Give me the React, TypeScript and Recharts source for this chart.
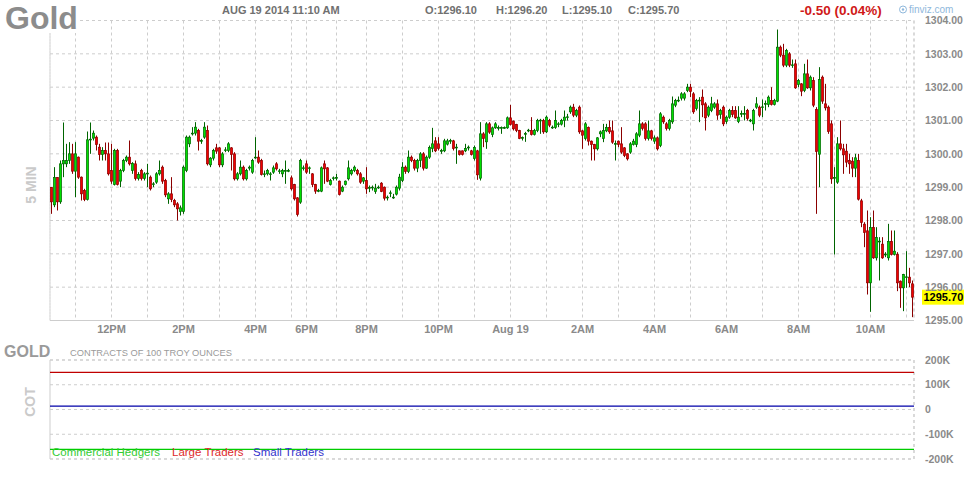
import { ComposedChart, Bar, Line, XAxis, YAxis, CartesianGrid, ReferenceArea, ReferenceLine } from "recharts";

const FONT = "Arial, 'Liberation Sans', Helvetica, sans-serif";

// 5-minute gold futures bars, 10:20 AM Aug 18 -> 11:10 AM Aug 19 2014 (one row = 12 bars)
const OPEN = [
  1298.99, 1298.47, 1299.29, 1298.56, 1299.7, 1299.7, 1299.8, 1300.0, 1299.48, 1299.9, 1299.3, 1298.9,
  1298.63, 1300.42, 1300.47, 1300.5, 1300.2, 1299.98, 1300.1, 1300.0, 1299.5, 1299.08, 1300.1, 1299.18,
  1299.5, 1299.8, 1299.9, 1299.5, 1299.7, 1299.26, 1299.5, 1299.26, 1299.4, 1299.3, 1299.08, 1299.15,
  1299.4, 1299.6, 1299.2, 1298.65, 1298.8, 1298.6, 1298.5, 1298.27, 1298.27, 1299.5, 1300.3, 1300.6,
  1300.62, 1300.7, 1300.38, 1300.5, 1300.7, 1299.67, 1299.87, 1300.18, 1300.18, 1299.67, 1300.1, 1300.1,
  1300.18, 1300.0, 1299.25, 1299.4, 1299.6, 1299.25, 1299.57, 1299.45, 1299.88, 1299.9, 1299.8, 1299.38,
  1299.4, 1299.38, 1299.45, 1299.7, 1299.47, 1299.4, 1299.48, 1299.48, 1299.28, 1299.08, 1298.68, 1298.55,
  1299.56, 1299.7, 1299.56, 1299.4, 1299.08, 1298.88, 1298.88, 1299.7, 1299.58, 1299.08, 1299.26, 1299.27,
  1299.18, 1298.88, 1299.08, 1299.25, 1299.4, 1299.5, 1299.5, 1299.4, 1299.18, 1299.2, 1298.97, 1298.98,
  1298.87, 1298.99, 1299.12, 1299.0, 1298.68, 1298.81, 1298.68, 1298.79, 1298.97, 1299.2, 1299.6, 1299.47,
  1299.9, 1299.8, 1299.57, 1299.8, 1300.0, 1299.57, 1299.9, 1300.16, 1300.39, 1300.3, 1300.08, 1300.09,
  1300.29, 1300.38, 1300.39, 1300.18, 1300.09, 1300.09, 1300.09, 1300.18, 1300.09, 1299.86, 1300.09, 1299.27,
  1300.6, 1300.36, 1300.9, 1300.58, 1300.78, 1300.77, 1300.77, 1300.77, 1300.78, 1301.08, 1300.98, 1300.88,
  1300.7, 1300.47, 1300.59, 1300.69, 1300.7, 1300.58, 1300.7, 1300.99, 1301.0, 1300.66, 1301.0, 1300.78,
  1300.79, 1300.88, 1300.89, 1301.0, 1301.09, 1301.26, 1301.4, 1301.16, 1301.4, 1300.69, 1300.46, 1300.79,
  1300.38, 1300.28, 1300.15, 1300.6, 1300.46, 1300.69, 1300.79, 1300.69, 1300.29, 1300.38, 1300.3, 1300.18,
  1300.0, 1300.05, 1300.28, 1300.28, 1300.56, 1300.9, 1300.9, 1300.46, 1300.69, 1300.38, 1300.48, 1300.25,
  1301.1, 1300.9, 1300.76, 1300.96, 1301.46, 1301.59, 1301.67, 1301.67, 1301.9, 1302.0, 1301.8, 1301.36,
  1301.59, 1301.7, 1301.5, 1301.16, 1301.3, 1301.4, 1301.5, 1301.18, 1301.4, 1300.97, 1301.1, 1301.3,
  1301.3, 1300.97, 1301.19, 1301.19, 1301.3, 1300.99, 1300.9, 1301.4, 1301.4, 1301.39, 1301.49, 1301.48,
  1301.6, 1301.48, 1301.58, 1303.2, 1302.96, 1302.66, 1303.0, 1302.65, 1302.7, 1302.08, 1302.1, 1301.9,
  1302.4, 1301.98, 1302.2, 1301.33, 1299.99, 1302.3, 1301.5, 1301.4, 1300.9, 1299.27, 1299.15, 1300.3,
  1300.15, 1300.08, 1299.8, 1299.78, 1299.57, 1299.8, 1298.59, 1297.89, 1297.69, 1296.13, 1297.79, 1296.88,
  1297.36, 1297.29, 1296.97, 1296.88, 1297.37, 1296.98, 1296.98, 1296.18, 1295.98, 1296.29, 1296.3, 1296.1,
];

const HIGH = [
  1299.0, 1299.6, 1299.3, 1299.8, 1300.94, 1300.3, 1300.35, 1300.3, 1300.35, 1299.92, 1299.32, 1298.95,
  1300.67, 1300.94, 1300.7, 1300.55, 1300.3, 1300.2, 1300.34, 1300.34, 1300.3, 1300.15, 1300.15, 1299.55,
  1299.85, 1299.95, 1300.4, 1299.75, 1299.8, 1299.45, 1299.55, 1299.45, 1299.7, 1299.35, 1299.15, 1299.45,
  1299.8, 1299.65, 1299.25, 1298.85, 1299.3, 1298.65, 1298.55, 1298.45, 1299.65, 1300.55, 1300.55, 1300.8,
  1300.95, 1300.75, 1300.45, 1300.95, 1300.85, 1299.9, 1300.15, 1300.3, 1300.2, 1300.05, 1300.2, 1300.35,
  1300.2, 1300.05, 1299.45, 1299.8, 1299.65, 1299.55, 1299.65, 1299.85, 1300.5, 1300.1, 1299.85, 1299.5,
  1299.55, 1299.45, 1299.65, 1299.75, 1299.55, 1299.55, 1299.8, 1299.55, 1299.35, 1299.1, 1298.7, 1299.85,
  1299.65, 1299.8, 1299.62, 1299.42, 1299.1, 1298.95, 1299.62, 1299.8, 1299.6, 1299.25, 1299.32, 1299.4,
  1299.2, 1299.05, 1299.2, 1299.8, 1299.55, 1299.65, 1299.55, 1299.45, 1299.3, 1299.6, 1299.05, 1299.05,
  1299.1, 1299.05, 1299.15, 1299.02, 1298.75, 1298.9, 1298.8, 1299.05, 1299.4, 1299.75, 1299.65, 1300.1,
  1299.95, 1299.85, 1299.85, 1300.05, 1300.05, 1299.95, 1300.25, 1300.78, 1300.5, 1300.5, 1300.15, 1300.45,
  1300.45, 1300.45, 1300.42, 1300.3, 1300.1, 1300.1, 1300.3, 1300.25, 1300.12, 1300.25, 1300.12, 1300.95,
  1300.65, 1300.95, 1300.95, 1300.82, 1300.95, 1300.85, 1300.82, 1300.82, 1301.12, 1301.47, 1301.0, 1300.9,
  1300.72, 1300.52, 1300.66, 1300.75, 1301.1, 1300.75, 1301.05, 1301.05, 1301.05, 1301.15, 1301.05, 1300.85,
  1301.3, 1300.95, 1301.05, 1301.3, 1301.2, 1301.45, 1301.5, 1301.35, 1301.45, 1300.72, 1300.95, 1300.82,
  1300.4, 1300.3, 1300.5, 1300.7, 1300.9, 1300.9, 1301.0, 1301.0, 1300.4, 1300.4, 1300.8, 1300.2,
  1300.02, 1300.35, 1300.45, 1300.65, 1301.3, 1300.95, 1300.95, 1301.0, 1300.72, 1300.55, 1300.52, 1301.25,
  1301.15, 1300.95, 1301.05, 1301.72, 1301.65, 1301.72, 1301.85, 1301.85, 1302.1, 1302.1, 1301.85, 1301.65,
  1301.7, 1301.93, 1301.55, 1301.45, 1301.71, 1301.55, 1301.63, 1301.35, 1301.45, 1301.15, 1301.35, 1301.43,
  1301.43, 1301.43, 1301.3, 1301.43, 1301.35, 1301.05, 1301.35, 1301.7, 1301.45, 1301.63, 1301.6, 1301.75,
  1302.0, 1301.65, 1303.73, 1303.25, 1303.3, 1303.15, 1303.05, 1302.83, 1302.83, 1302.25, 1302.12, 1302.7,
  1302.83, 1302.35, 1302.3, 1301.4, 1302.6, 1302.35, 1302.1, 1301.45, 1301.0, 1299.6, 1300.5, 1301.0,
  1300.3, 1300.3, 1300.0, 1299.9, 1300.0, 1300.0, 1298.65, 1297.95, 1298.3, 1298.1, 1298.3, 1297.8,
  1297.5, 1297.5, 1297.05, 1297.9, 1297.7, 1297.7, 1297.05, 1296.2, 1296.4, 1297.08, 1296.58, 1296.2,
];

const LOW = [
  1298.2, 1298.4, 1298.3, 1298.5, 1299.3, 1299.6, 1299.7, 1299.4, 1298.7, 1299.25, 1298.6, 1298.58,
  1298.6, 1300.0, 1300.4, 1300.1, 1299.8, 1299.8, 1299.8, 1299.35, 1299.1, 1299.05, 1299.05, 1299.0,
  1299.45, 1299.75, 1299.65, 1299.4, 1299.2, 1299.2, 1299.2, 1299.2, 1299.0, 1298.9, 1299.0, 1299.1,
  1299.35, 1299.1, 1298.7, 1298.5, 1298.55, 1298.4, 1298.0, 1298.15, 1298.2, 1299.45, 1300.2, 1300.55,
  1300.55, 1300.1, 1300.3, 1300.45, 1299.65, 1299.6, 1299.8, 1300.0, 1299.6, 1299.6, 1300.05, 1300.05,
  1299.5, 1299.2, 1299.2, 1299.35, 1299.2, 1299.2, 1299.5, 1299.4, 1299.85, 1299.7, 1299.35, 1299.3,
  1299.35, 1299.2, 1299.4, 1299.5, 1299.4, 1299.3, 1299.1, 1299.45, 1298.9, 1298.6, 1298.12, 1298.5,
  1299.5, 1299.4, 1299.4, 1299.0, 1298.8, 1298.85, 1298.85, 1299.1, 1299.15, 1299.05, 1299.2, 1299.2,
  1298.75, 1298.85, 1299.05, 1299.2, 1299.35, 1299.45, 1299.35, 1299.1, 1299.1, 1298.8, 1298.85, 1298.9,
  1298.8, 1298.95, 1298.85, 1298.6, 1298.6, 1298.7, 1298.65, 1298.75, 1298.9, 1299.15, 1299.4, 1299.42,
  1299.75, 1299.5, 1299.45, 1299.6, 1299.5, 1299.55, 1299.85, 1300.05, 1300.05, 1300.1, 1300.0, 1300.05,
  1300.25, 1300.3, 1300.1, 1299.7, 1299.95, 1299.95, 1300.05, 1300.1, 1299.95, 1299.8, 1299.22, 1299.2,
  1300.2, 1300.15, 1300.6, 1300.5, 1300.75, 1300.7, 1300.6, 1300.75, 1300.75, 1300.85, 1300.7, 1300.65,
  1300.44, 1300.4, 1300.36, 1300.65, 1300.55, 1300.55, 1300.65, 1300.6, 1300.6, 1300.62, 1300.8, 1300.75,
  1300.75, 1300.8, 1300.85, 1300.8, 1301.0, 1301.2, 1301.1, 1301.1, 1300.6, 1300.15, 1300.4, 1300.25,
  1299.8, 1299.8, 1300.1, 1300.5, 1300.35, 1300.65, 1300.6, 1300.3, 1299.8, 1300.2, 1300.0, 1299.9,
  1299.8, 1300.0, 1300.25, 1300.2, 1300.5, 1300.7, 1300.4, 1300.4, 1300.4, 1300.3, 1300.1, 1300.2,
  1300.9, 1300.7, 1300.7, 1300.9, 1301.4, 1301.55, 1301.6, 1301.6, 1301.85, 1301.7, 1301.2, 1301.3,
  1300.95, 1301.1, 1300.7, 1301.1, 1301.25, 1301.35, 1301.02, 1301.05, 1300.83, 1300.9, 1301.05, 1301.1,
  1301.05, 1300.92, 1301.1, 1301.0, 1301.0, 1300.95, 1300.7, 1301.35, 1301.1, 1301.1, 1301.3, 1301.4,
  1301.45, 1301.45, 1301.55, 1302.9, 1302.6, 1302.6, 1302.6, 1302.58, 1301.95, 1302.0, 1301.73, 1301.85,
  1301.95, 1301.9, 1301.4, 1298.2, 1299.0, 1301.5, 1301.3, 1300.6, 1299.1, 1296.98, 1299.1, 1300.1,
  1299.4, 1299.6, 1299.4, 1299.3, 1299.3, 1298.6, 1297.8, 1297.2, 1295.78, 1295.26, 1296.85, 1296.8,
  1296.2, 1296.85, 1296.9, 1296.8, 1296.95, 1296.95, 1295.88, 1295.38, 1295.28, 1295.98, 1296.0, 1295.1,
];

const CLOSE = [
  1298.56, 1299.29, 1298.56, 1299.7, 1299.8, 1299.8, 1300.0, 1299.48, 1300.0, 1299.3, 1298.8, 1298.63,
  1300.42, 1300.44, 1300.62, 1300.28, 1299.98, 1300.1, 1300.0, 1299.4, 1299.18, 1300.1, 1299.08, 1299.5,
  1299.8, 1299.9, 1299.7, 1299.71, 1299.26, 1299.38, 1299.26, 1299.4, 1299.42, 1298.95, 1299.1, 1299.4,
  1299.5, 1299.18, 1298.77, 1298.8, 1298.63, 1298.47, 1298.35, 1298.38, 1299.6, 1300.5, 1300.5, 1300.62,
  1300.8, 1300.38, 1300.4, 1300.8, 1299.7, 1299.87, 1300.1, 1300.08, 1299.67, 1300.0, 1300.12, 1300.3,
  1299.98, 1299.25, 1299.4, 1299.6, 1299.25, 1299.5, 1299.6, 1299.8, 1299.9, 1299.75, 1299.38, 1299.4,
  1299.5, 1299.4, 1299.58, 1299.55, 1299.49, 1299.5, 1299.5, 1299.5, 1298.95, 1298.65, 1298.18, 1299.8,
  1299.58, 1299.45, 1299.58, 1299.08, 1298.88, 1298.9, 1299.58, 1299.55, 1299.18, 1299.2, 1299.28, 1299.29,
  1298.78, 1299.0, 1299.18, 1299.58, 1299.5, 1299.6, 1299.4, 1299.15, 1299.28, 1298.95, 1298.99, 1299.0,
  1298.97, 1299.0, 1298.87, 1298.67, 1298.7, 1298.83, 1298.7, 1299.0, 1299.3, 1299.6, 1299.47, 1299.9,
  1299.8, 1299.57, 1299.8, 1300.0, 1299.57, 1299.9, 1300.19, 1300.3, 1300.09, 1300.16, 1300.1, 1300.39,
  1300.39, 1300.4, 1300.16, 1300.2, 1299.98, 1299.98, 1300.16, 1300.2, 1299.98, 1300.19, 1299.37, 1300.6,
  1300.46, 1300.9, 1300.65, 1300.78, 1300.9, 1300.79, 1300.79, 1300.79, 1301.08, 1300.88, 1300.75, 1300.7,
  1300.46, 1300.49, 1300.61, 1300.71, 1300.58, 1300.7, 1301.0, 1301.01, 1300.66, 1301.1, 1300.86, 1300.8,
  1301.0, 1300.9, 1301.0, 1301.1, 1301.11, 1301.4, 1301.16, 1301.3, 1300.66, 1300.56, 1300.9, 1300.38,
  1300.28, 1300.15, 1300.48, 1300.66, 1300.7, 1300.79, 1300.66, 1300.35, 1300.31, 1300.28, 1300.05, 1299.95,
  1299.85, 1300.3, 1300.38, 1300.6, 1300.9, 1300.76, 1300.46, 1300.69, 1300.46, 1300.48, 1300.15, 1301.2,
  1300.96, 1300.76, 1301.0, 1301.5, 1301.6, 1301.61, 1301.8, 1301.8, 1302.0, 1301.87, 1301.26, 1301.6,
  1301.61, 1301.47, 1301.08, 1301.4, 1301.5, 1301.5, 1301.16, 1301.3, 1300.9, 1301.1, 1301.3, 1301.18,
  1301.08, 1301.1, 1301.21, 1301.21, 1301.06, 1301.01, 1301.3, 1301.5, 1301.16, 1301.41, 1301.51, 1301.7,
  1301.48, 1301.6, 1303.2, 1302.96, 1302.66, 1303.1, 1302.66, 1302.67, 1301.98, 1302.2, 1301.88, 1302.4,
  1301.98, 1302.3, 1301.46, 1300.07, 1302.23, 1301.58, 1301.38, 1300.67, 1299.25, 1299.29, 1300.3, 1300.15,
  1299.97, 1299.75, 1299.7, 1299.57, 1299.88, 1298.64, 1297.94, 1297.64, 1296.13, 1297.79, 1296.88, 1297.49,
  1297.38, 1296.88, 1296.99, 1297.37, 1296.98, 1297.08, 1296.13, 1295.98, 1296.38, 1296.31, 1296.13, 1295.7,
];

// bar index of every full hour (gaps around the 5-6 PM pause and thin evening trading)
const HOUR_TICKS = [8, 20, 32, 44, 56, 68, 80, 85, 95, 105, 117, 129, 141, 153, 165, 177, 189, 201, 213, 225, 237, 249, 261, 273, 285];
const HOUR_LABELS: Record<number, string> = {
  20: "12PM", 44: "2PM", 68: "4PM", 85: "6PM", 105: "8PM", 129: "10PM",
  153: "Aug 19", 177: "2AM", 201: "4AM", 225: "6AM", 249: "8AM", 273: "10AM",
};
const PRICE_TICKS = [1295, 1296, 1297, 1298, 1299, 1300, 1301, 1302, 1303, 1304];

// latest weekly COT net positions (contracts of 100 troy ounces)
const COT_TICKS = [-200000, -100000, 0, 100000, 200000];
const COT_COMMERCIAL = -161000;
const COT_LARGE = 150000;
const COT_SMALL = 14000;

const CHANGE_TEXT = "-0.50 (0.04%)";
const DATE_TEXT = "AUG 19 2014 11:10 AM";

// every 5-min bar carries the COT report in force at that time
const bars = OPEN.map((o, i) => ({
  i,
  o,
  h: HIGH[i],
  l: LOW[i],
  c: CLOSE[i],
  range: [LOW[i], HIGH[i]],
  commercial: COT_COMMERCIAL,
  large: COT_LARGE,
  small: COT_SMALL,
}));
const LAST = bars.length - 1;

const GRID = "#cdcdcd";
const AXIS_TEXT = { fill: "#8a8a8a", fontSize: 10.5, fontWeight: "bold", fontFamily: FONT };

function Candle(props: any) {
  const { x, y, width, height, payload } = props;
  if (!payload || y == null || height == null) return null;
  const { o, h, l, c } = payload;
  const cx = x + width / 2;
  const top = Math.min(y, y + height);
  const span = Math.abs(height);
  const k = h > l ? span / (h - l) : 0;
  const yo = top + (h - o) * k;
  const yc = top + (h - c) * k;
  const up = c >= o;
  const dark = up ? "#006400" : "#8b0000";
  const fill = up ? "#00e000" : "#f00000";
  const bt = Math.min(yo, yc);
  const bh = Math.max(Math.abs(yo - yc), 0.8);
  return (
    <g>
      <line x1={cx} x2={cx} y1={top} y2={top + span} stroke={dark} strokeWidth={1} />
      <rect x={cx - 1.1} y={bt} width={2.2} height={bh} fill={fill} stroke={dark} strokeWidth={0.7} />
    </g>
  );
}

function LastPrice(props: any) {
  const vb = props.viewBox;
  if (!vb) return null;
  const x = vb.x + vb.width + 8;
  return (
    <g>
      <rect x={x} y={vb.y - 7.5} width={42} height={15} fill="#ffff00" />
      <text x={x + 1.5} y={vb.y + 4} fontSize={11} fontWeight="bold" fill="#000" fontFamily={FONT}>
        {CLOSE[LAST].toFixed(2)}
      </text>
    </g>
  );
}

const fmtK = (v: number) => (v === 0 ? "0" : `${v / 1000}K`);

export default function App() {
  const b = bars[LAST];
  return (
    <div style={{ position: "relative", width: 964, height: 480, background: "#fff", overflow: "hidden" }}>
      <style>{"body{margin:0}"}</style>

      <div style={{ position: "absolute", left: 0, top: 0 }}>
        <ComposedChart width={964} height={344.5} data={bars} margin={{ top: 20.5, right: 0, bottom: 0, left: 50 }} barCategoryGap={0}>
          <CartesianGrid stroke={GRID} strokeDasharray="3 3" />
          <XAxis
            dataKey="i"
            type="category"
            ticks={HOUR_TICKS}
            interval={0}
            tickFormatter={(v) => HOUR_LABELS[v] ?? ""}
            axisLine={false}
            tickLine={false}
            tickSize={0}
            tickMargin={5}
            height={24}
            tick={{ ...AXIS_TEXT, fontSize: 11 }}
          />
          <YAxis
            orientation="right"
            width={50}
            domain={[1295, 1304]}
            ticks={PRICE_TICKS}
            tickFormatter={(v) => v.toFixed(2)}
            axisLine={false}
            tickLine={false}
            tickSize={0}
            tickMargin={11}
            tick={AXIS_TEXT}
          />
          <ReferenceArea x1={0} x2={LAST} y1={1295} y2={1304} fill="none" stroke={GRID} strokeDasharray="3 3" />
          <Bar dataKey="range" shape={<Candle />} isAnimationActive={false} />
          <ReferenceLine y={CLOSE[LAST]} stroke="none" label={<LastPrice />} />
        </ComposedChart>
      </div>

      <div style={{ position: "absolute", left: 0, top: 345 }}>
        <ComposedChart width={964} height={125} data={bars} margin={{ top: 15, right: 0, bottom: 11, left: 50 }}>
          <CartesianGrid stroke={GRID} strokeDasharray="3 3" />
          <XAxis dataKey="i" type="category" ticks={HOUR_TICKS} interval={0} tick={false} axisLine={false} tickLine={false} height={0} />
          <YAxis
            orientation="right"
            width={50}
            domain={[-200000, 200000]}
            ticks={COT_TICKS}
            tickFormatter={fmtK}
            axisLine={false}
            tickLine={false}
            tickSize={0}
            tickMargin={11}
            tick={AXIS_TEXT}
          />
          <ReferenceArea x1={0} x2={LAST} y1={-200000} y2={200000} fill="none" stroke={GRID} strokeDasharray="3 3" />
          <Line dataKey="large" stroke="#c00000" strokeWidth={1.2} dot={false} activeDot={false} isAnimationActive={false} />
          <Line dataKey="small" stroke="#0000a8" strokeWidth={1.2} dot={false} activeDot={false} isAnimationActive={false} />
          <Line dataKey="commercial" stroke="#00cc00" strokeWidth={1.2} dot={false} activeDot={false} isAnimationActive={false} />
        </ComposedChart>
      </div>

      <svg width={964} height={480} fontFamily={FONT} style={{ position: "absolute", left: 0, top: 0, pointerEvents: "none" }}>
        <rect x={3} y={2} width={77} height={31} fill="#fff" />
        <text x={5} y={29} fontSize={32} fontWeight="bold" fill="#8c8c8c">Gold</text>
        <text x={222} y={14} fontSize={11} fontWeight="bold" fill="#707070">{DATE_TEXT}</text>
        <text x={425} y={14} fontSize={11} fontWeight="bold" fill="#707070">{`O:${b.o.toFixed(2)}`}</text>
        <text x={496} y={14} fontSize={11} fontWeight="bold" fill="#707070">{`H:${b.h.toFixed(2)}`}</text>
        <text x={562} y={14} fontSize={11} fontWeight="bold" fill="#707070">{`L:${b.l.toFixed(2)}`}</text>
        <text x={628} y={14} fontSize={11} fontWeight="bold" fill="#707070">{`C:${b.c.toFixed(2)}`}</text>
        <text x={800} y={15} fontSize={13.5} fontWeight="bold" fill="#d01818">{CHANGE_TEXT}</text>
        <circle cx={903} cy={9.5} r={3.5} fill="none" stroke="#8fb8dc" strokeWidth={1} />
        <circle cx={903} cy={9.5} r={1.2} fill="#8fb8dc" />
        <text x={909} y={13} fontSize={10} fill="#8fb8dc">finviz.com</text>

        <text x={31} y={185} fontSize={14} fontWeight="bold" fill="#cacaca" textAnchor="middle" dominantBaseline="central" transform="rotate(-90 31 185)">5 MIN</text>

        <text x={4} y={357} fontSize={16} fontWeight="bold" fill="#9a9a9a">GOLD</text>
        <text x={70} y={356} fontSize={9.3} fill="#9a9a9a">CONTRACTS OF 100 TROY OUNCES</text>
        <text x={30} y={402} fontSize={14} fontWeight="bold" fill="#cacaca" textAnchor="middle" dominantBaseline="central" transform="rotate(-90 30 402)">COT</text>

        <text x={52} y={456} fontSize={11.5} fill="#33cc33">Commercial Hedgers</text>
        <text x={172} y={456} fontSize={11.5} fill="#dd2a2a">Large Traders</text>
        <text x={253} y={456} fontSize={11.5} fill="#3333cc">Small Traders</text>
      </svg>
    </div>
  );
}
